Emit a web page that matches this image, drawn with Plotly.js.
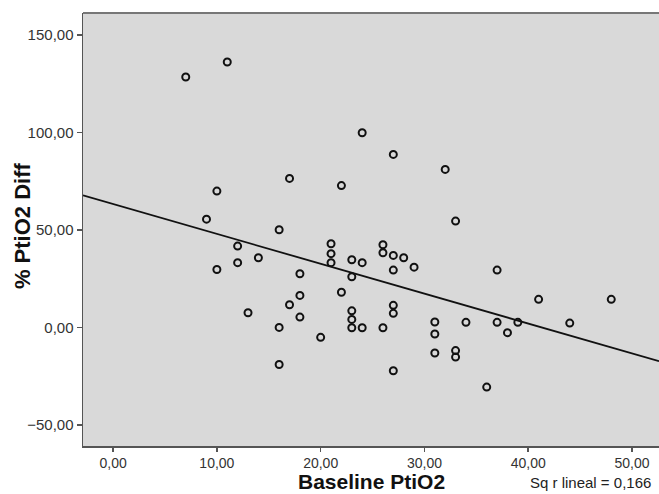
<!DOCTYPE html>
<html>
<head>
<meta charset="utf-8">
<script src="https://cdn.plot.ly/plotly-3.0.1.min.js"></script>
<style>html,body{margin:0;padding:0;background:#fff;}#chart{width:659px;height:494px;}</style>
</head>
<body>
<div id="chart"></div>
<script>
// Baseline PtiO2 (x) and % PtiO2 Diff (y)
const baselinePtiO2 = [7, 11, 10, 17, 9, 16, 12, 21, 24, 27, 32, 22, 33, 26, 10, 12, 14, 18, 18, 17, 13, 18, 16, 20, 16,
  21, 21, 26, 27, 28, 23, 24, 27, 29, 23, 22, 37, 41, 48, 27, 27, 23, 23, 23, 24, 26, 31, 31, 31, 34, 37, 39, 38, 44, 33, 33, 27, 36];
const pctPtiO2Diff = [128.4, 136.1, 69.9, 76.4, 55.5, 50.1, 41.7, 42.9, 99.8, 88.7, 81.0, 72.7, 54.5, 42.4, 29.7, 33.2, 35.7, 27.5, 16.4, 11.6, 7.5, 5.3, 0.0, -5.1, -19.0,
  37.8, 33.2, 38.3, 36.9, 35.7, 34.7, 33.2, 29.4, 30.9, 26.0, 18.0, 29.4, 14.4, 14.4, 11.3, 7.2, 8.5, 4.1, -0.2, -0.2, -0.2, 2.8, -3.4, -13.1, 2.6, 2.6, 2.6, -2.7, 2.2, -11.9, -15.2, -22.2, -30.6];
// Fitted linear regression line endpoints
const fitX = [-2.9, 52.6];
const fitY = [67.7, -17.3];
const xTitle = 'Baseline PtiO2';
const yTitle = '% PtiO2 Diff';
const rSquaredLabel = 'Sq r lineal = 0,166';
const xTicks = [0, 10, 20, 30, 40, 50];
const yTicks = [-50, 0, 50, 100, 150];

const FONT = 'Liberation Sans, Arial, Helvetica, sans-serif';

const traces = [
  {
    x: fitX, y: fitY, type: 'scatter', mode: 'lines',
    line: {color: '#111', width: 1.8}, hoverinfo: 'skip', showlegend: false
  },
  {
    x: baselinePtiO2, y: pctPtiO2Diff, type: 'scatter', mode: 'markers',
    marker: {symbol: 'circle-open', size: 7, color: '#111', line: {width: 2, color: '#111'}},
    showlegend: false
  }
];

const layout = {
  width: 659, height: 494,
  margin: {l: 83, r: 0, t: 13, b: 48, pad: 0},
  paper_bgcolor: '#ffffff',
  plot_bgcolor: '#d9d9d9',
  separators: ',.',
  font: {family: FONT, color: '#333'},
  xaxis: {
    range: [-2.9, 52.6], tickvals: xTicks, tickformat: '.2f',
    showgrid: false, zeroline: false, showline: true, linecolor: '#555', linewidth: 1.5,
    ticks: 'outside', ticklen: 4, tickwidth: 1.5, tickcolor: '#555',
    tickfont: {size: 14, color: '#333', family: FONT}
  },
  yaxis: {
    range: [-60.8, 161.2], tickvals: yTicks, tickformat: '.2f',
    showgrid: false, zeroline: false, showline: true, linecolor: '#555', linewidth: 1.5,
    ticks: 'outside', ticklen: 5, tickwidth: 1.5, tickcolor: '#555',
    tickfont: {size: 15, color: '#333', family: FONT}
  },
  shapes: [
    {type: 'line', xref: 'paper', yref: 'paper', x0: 0, x1: 1, y0: 1, y1: 1, line: {color: '#777', width: 2}}
  ],
  annotations: [
    {text: '<b>' + xTitle + '</b>', xref: 'paper', yref: 'paper', x: 0.5, y: -0.1105, xanchor: 'center', yanchor: 'bottom',
     borderpad: 0, showarrow: false, font: {size: 21, color: '#111', family: FONT}},
    {text: '<b>' + yTitle + '</b>', xref: 'paper', yref: 'paper', x: -0.106, y: 0.51, xanchor: 'center', yanchor: 'middle',
     textangle: -90, showarrow: false, font: {size: 22, color: '#111', family: FONT}},
    {text: rSquaredLabel, xref: 'paper', yref: 'paper', x: 0.99, y: -0.085, xanchor: 'right', yanchor: 'middle',
     showarrow: false, font: {size: 15, color: '#222', family: FONT}}
  ]
};

Plotly.newPlot('chart', traces, layout, {displayModeBar: false, staticPlot: true});
</script>
</body>
</html>
